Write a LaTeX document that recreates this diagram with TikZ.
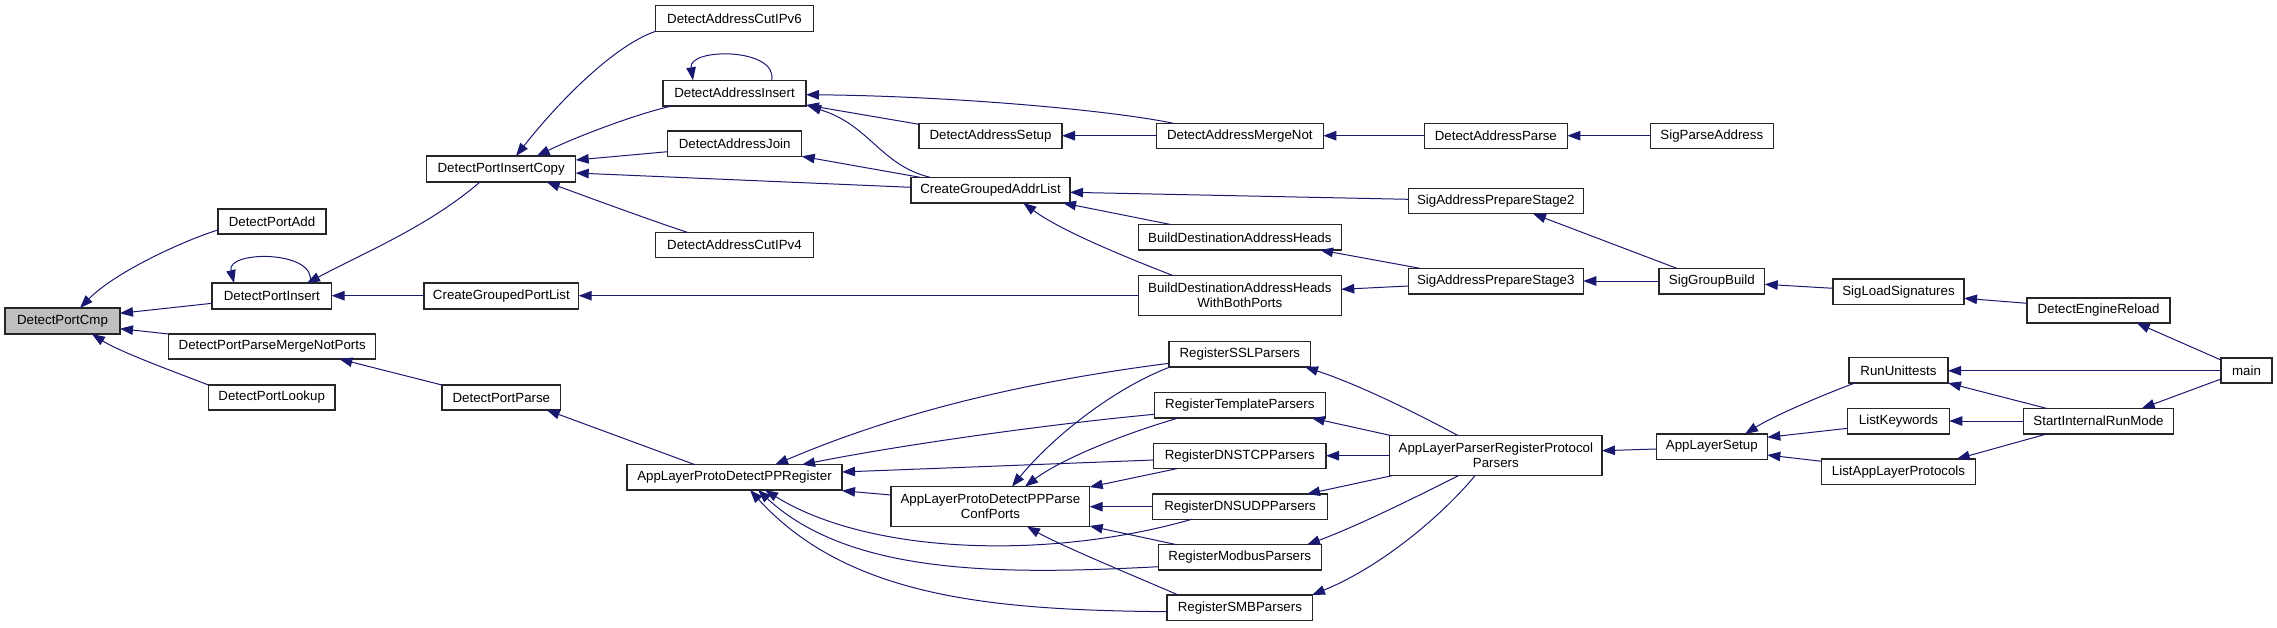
\documentclass[tikz,border=0pt]{standalone}
\usepackage{fontspec}
\setmainfont{Liberation Sans}
\usetikzlibrary{arrows.meta}
\definecolor{edgeblue}{RGB}{25,25,112}
\definecolor{focusgray}{RGB}{191,191,191}
\tikzset{
  box/.style={draw=black!85, line width=1.1pt, fill=white, inner sep=0pt, outer sep=0pt,
    align=center, font=\fontsize{13.3}{15}\selectfont},
  calls/.style={draw=edgeblue, line width=1pt, -{Triangle[length=13pt,width=9.5pt]}}
}
\newcommand{\bx}[7][]{%
  \pgfmathsetmacro\bxcx{(#3+#5)/2}%
  \pgfmathsetmacro\bxcy{(#4+#6)/2}%
  \pgfmathsetmacro\bxw{#5-#3}%
  \pgfmathsetmacro\bxh{#6-#4}%
  \expandafter\xdef\csname bxX#2\endcsname{#3}%
  \expandafter\xdef\csname bxY#2\endcsname{#4}%
  \node[box,#1,minimum width=\bxw pt,minimum height=\bxh pt] (#2) at (\bxcx,\bxcy) {#7};}
\newcommand{\cst}[7]{\draw[calls] ([shift={(#2-\csname bxX#1\endcsname,#3-\csname bxY#1\endcsname)}]#1.north west) #4 ([shift={(#6-\csname bxX#5\endcsname,#7-\csname bxY#5\endcsname)}]#5.north west);}
\begin{document}
\begin{tikzpicture}[x=1pt,y=-1pt]
\useasboundingbox[fill=white] (0,0) rectangle (2277,627);
% nodes
\bx[fill=focusgray]{cmp}{5}{308}{120}{334}{DetectPortCmp}
\bx{padd}{218}{209}{326}{234}{DetectPortAdd}
\bx{pins}{212}{283}{331.6}{309}{DetectPortInsert}
\bx{pmnp}{168.7}{334}{375.7}{359}{DetectPortParseMergeNotPorts}
\bx{plook}{208.4}{385}{335}{410}{DetectPortLookup}
\bx{pcopy}{426.6}{156}{575.7}{182}{DetectPortInsertCopy}
\bx{cgpl}{424}{283}{578.7}{309}{CreateGroupedPortList}
\bx{pparse}{442}{385}{560.7}{410}{DetectPortParse}
\bx{cutsix}{655.7}{5.7}{813.3}{31.3}{DetectAddressCutIPv6}
\bx{ains}{663}{80.3}{806}{106}{DetectAddressInsert}
\bx{ajoin}{667.7}{131}{801.7}{156.3}{DetectAddressJoin}
\bx{cutfour}{655.7}{232.7}{813.3}{257.7}{DetectAddressCutIPv4}
\bx{ppreg}{627}{464.7}{842}{490}{AppLayerProtoDetectPPRegister}
\bx{asetup}{919}{123.3}{1062}{148.7}{DetectAddressSetup}
\bx{cgal}{911}{177.3}{1070}{203}{CreateGroupedAddrList}
\bx{conf}{891}{486.5}{1089.7}{526.5}{AppLayerProtoDetectPPParse\\ConfPorts}
\bx{amn}{1156.3}{123.3}{1323.3}{148.7}{DetectAddressMergeNot}
\bx{bdah}{1138.3}{224.7}{1341.3}{250}{BuildDestinationAddressHeads}
\bx{bdwb}{1138.3}{275.7}{1341.3}{315.7}{BuildDestinationAddressHeads\\WithBothPorts}
\bx{ssl}{1169}{341.7}{1310.7}{367}{RegisterSSLParsers}
\bx{tmpl}{1154.3}{392.3}{1325.3}{418}{RegisterTemplateParsers}
\bx{dnstcp}{1153.7}{443.3}{1326}{468.7}{RegisterDNSTCPParsers}
\bx{dnsudp}{1152.7}{494}{1327.3}{519.3}{RegisterDNSUDPParsers}
\bx{modbus}{1158.3}{544.7}{1321.3}{570}{RegisterModbusParsers}
\bx{smb}{1167}{595}{1312.7}{620.7}{RegisterSMBParsers}
\bx{aparse}{1424.3}{123.3}{1567.3}{148.7}{DetectAddressParse}
\bx{sttwo}{1408.3}{188.3}{1583.3}{213.7}{SigAddressPrepareStage2}
\bx{stthree}{1408.3}{268.3}{1583.3}{294}{SigAddressPrepareStage3}
\bx{alpr}{1389.7}{435.7}{1602}{475.7}{AppLayerParserRegisterProtocol\\Parsers}
\bx{spa}{1650.3}{123.3}{1773.3}{148.7}{SigParseAddress}
\bx{sgb}{1659}{268.3}{1764.7}{294}{SigGroupBuild}
\bx{als}{1656.3}{434}{1767.3}{459.3}{AppLayerSetup}
\bx{sls}{1833}{279}{1964}{304.7}{SigLoadSignatures}
\bx{rut}{1849}{357.7}{1948}{383}{RunUnittests}
\bx{lkw}{1847.7}{408.3}{1949.3}{434}{ListKeywords}
\bx{lalp}{1821.7}{459}{1975.3}{484.3}{ListAppLayerProtocols}
\bx{der}{2027}{298}{2170}{323}{DetectEngineReload}
\bx{sirm}{2023.7}{408.4}{2173.3}{434}{StartInternalRunMode}
\bx{mainfn}{2221}{358}{2272}{383}{main}
% edges
\cst{padd}{218}{230}{.. controls (185,240) and (115,272) ..}{cmp}{80}{308}
\cst{pins}{212}{303.3}{--}{cmp}{120}{313.3}
\cst{pmnp}{168.7}{334}{--}{cmp}{120}{328.7}
\cst{plook}{208.4}{385}{.. controls (175,372) and (120,352) ..}{cmp}{92}{334}
\cst{pins}{310}{283}{.. controls (318,250) and (226,250) ..}{pins}{234}{283}
\cst{pcopy}{480}{182}{.. controls (430,225) and (370,250) ..}{pins}{307}{283}
\cst{cgpl}{424}{295.7}{--}{pins}{331.6}{295.7}
\cst{pparse}{442}{385}{--}{pmnp}{339.3}{359}
\cst{ppreg}{695}{464.7}{--}{pparse}{546.7}{410}
\cst{cutsix}{655.7}{31.3}{.. controls (615,45) and (560,100) ..}{pcopy}{516}{156}
\cst{ains}{671.7}{106}{.. controls (640,113) and (580,135) ..}{pcopy}{536.7}{156}
\cst{ajoin}{667.7}{151.7}{--}{pcopy}{575.7}{160}
\cst{cgal}{911}{187.3}{--}{pcopy}{575.7}{173}
\cst{cutfour}{688.3}{232.7}{.. controls (650,220) and (590,198) ..}{pcopy}{546.7}{182}
\cst{bdwb}{1138.3}{295.7}{--}{cgpl}{578.7}{295.7}
\cst{ains}{771.7}{80.3}{.. controls (778,47.5) and (688,47.5) ..}{ains}{693}{80.3}
\cst{amn}{1173.3}{123.3}{.. controls (1110,110) and (950,96) ..}{ains}{806}{94.7}
\cst{asetup}{919}{124.3}{--}{ains}{806}{105}
\cst{cgal}{930}{177.3}{.. controls (880,165) and (870,125) ..}{ains}{808}{106}
\cst{cgal}{920}{177.3}{--}{ajoin}{801.7}{156.3}
\cst{amn}{1156.3}{135.7}{--}{asetup}{1062}{135.7}
\cst{aparse}{1424.3}{135.7}{--}{amn}{1323.3}{135.7}
\cst{spa}{1650.3}{135.7}{--}{aparse}{1567.3}{135.7}
\cst{sttwo}{1408.3}{199.3}{--}{cgal}{1070}{192.3}
\cst{bdah}{1171.7}{224.7}{--}{cgal}{1063}{203}
\cst{bdwb}{1173.3}{275.7}{.. controls (1120,255) and (1060,230) ..}{cgal}{1023.3}{203}
\cst{stthree}{1420}{268.3}{--}{bdah}{1320}{250}
\cst{stthree}{1408.3}{286}{--}{bdwb}{1341.3}{289.3}
\cst{sgb}{1676.7}{268.3}{--}{sttwo}{1533}{213.7}
\cst{sgb}{1659}{281}{--}{stthree}{1583.3}{281}
\cst{sls}{1833}{288.3}{--}{sgb}{1764.7}{284.3}
\cst{der}{2027}{303.3}{--}{sls}{1964}{298.3}
\cst{mainfn}{2221}{360}{--}{der}{2136.7}{323}
\cst{mainfn}{2221}{370.8}{--}{rut}{1948}{370.8}
\cst{mainfn}{2221}{379}{--}{sirm}{2141.7}{408.4}
\cst{sirm}{2046.7}{408.4}{--}{rut}{1948}{383}
\cst{sirm}{2023.7}{421}{--}{lkw}{1949.3}{421}
\cst{sirm}{2046.7}{434}{--}{lalp}{1956.7}{459}
\cst{rut}{1855}{383}{.. controls (1830,392) and (1775,415) ..}{als}{1745}{434}
\cst{lkw}{1847.7}{428.3}{--}{als}{1767.3}{437.3}
\cst{lalp}{1821.7}{461.3}{--}{als}{1767.3}{455}
\cst{als}{1656.3}{449}{--}{alpr}{1602}{450.7}
\cst{alpr}{1458.3}{435.7}{.. controls (1420,415) and (1360,385) ..}{ssl}{1305}{367}
\cst{alpr}{1391.7}{435.7}{--}{tmpl}{1311.7}{418}
\cst{alpr}{1389.7}{455.7}{--}{dnstcp}{1326}{455.7}
\cst{alpr}{1391.7}{475.7}{--}{dnsudp}{1307}{494}
\cst{alpr}{1458.3}{475.7}{.. controls (1420,495) and (1360,525) ..}{modbus}{1307}{544.7}
\cst{alpr}{1475}{475.7}{.. controls (1445,512) and (1385,565) ..}{smb}{1312}{595}
\cst{ssl}{1169}{363.3}{.. controls (1000,385) and (880,420) ..}{ppreg}{775}{464.7}
\cst{tmpl}{1154.3}{414.3}{.. controls (1050,424) and (900,445) ..}{ppreg}{802}{464.7}
\cst{dnstcp}{1153.7}{460}{--}{ppreg}{842}{472}
\cst{dnsudp}{1191.7}{519.3}{.. controls (1050,560) and (870,555) ..}{ppreg}{765}{490}
\cst{modbus}{1158.3}{566.7}{.. controls (1000,575) and (850,575) ..}{ppreg}{758}{490}
\cst{smb}{1167}{611.7}{.. controls (1000,610) and (850,600) ..}{ppreg}{750}{490}
\cst{ssl}{1170}{367}{.. controls (1110,390) and (1050,440) ..}{conf}{1012}{486.5}
\cst{tmpl}{1178.3}{418}{.. controls (1120,435) and (1060,460) ..}{conf}{1025}{486.5}
\cst{dnstcp}{1176.7}{468.7}{--}{conf}{1089.7}{487}
\cst{dnsudp}{1152.7}{506.7}{--}{conf}{1089.7}{506.7}
\cst{modbus}{1176.7}{544.7}{--}{conf}{1089.7}{526}
\cst{smb}{1178.3}{595}{.. controls (1120,570) and (1060,545) ..}{conf}{1027}{526.5}
\cst{conf}{891}{495}{--}{ppreg}{842}{490.7}
\end{tikzpicture}
\end{document}
